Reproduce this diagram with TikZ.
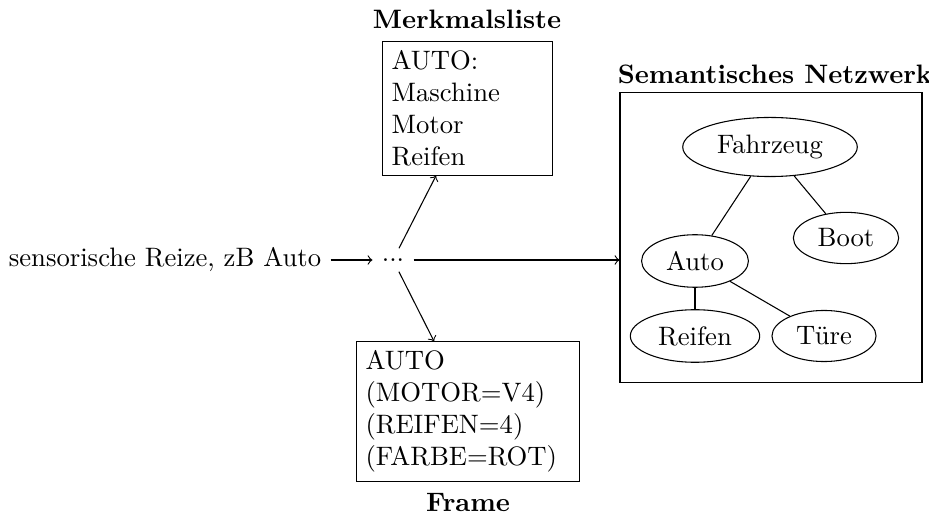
\documentclass[tikz,border=0pt]{standalone}
\usetikzlibrary{shapes.geometric,calc}
\begin{document}
\begin{tikzpicture}[x=0.375pt,y=-0.375pt,
  box/.style={draw,align=left},
  concept/.style={draw,ellipse},
  title/.style={font=\bfseries},
  arr/.style={->},
  link/.style={-}]
\useasboundingbox (0,0) rectangle (929,515);
% input and branching point
\node (input) at (165,260) {sensorische Reize, zB Auto};
\node[minimum height=8.4pt] (dots) at (393,260) {.{}.{}.};
% feature list
\node[box,text width=2cm] (merk) at (467.5,108.5) {AUTO:\\Maschine\\Motor\\Reifen};
\node[title] (merktitle) at (467,19) {Merkmalsliste};
% frame
\node[box,text width=2.7cm] (frame) at (468,411.5) {AUTO\\(MOTOR=V4)\\(REIFEN=4)\\(FARBE=ROT)};
\node[title] (frametitle) at (468,503) {Frame};
% semantic network
\node[draw,minimum width=113.25pt,minimum height=108.4pt] (netz) at (771,237.5) {};
\node[title] (netztitle) at (775,74) {Semantisches Netzwerk};
\node[concept] (fahrzeug) at (770,147) {Fahrzeug};
\node[concept] (boot) at (846,238) {Boot};
\node[concept] (auto) at (695,261) {Auto};
\node[concept] (reifen) at (695,336) {Reifen};
\node[concept] (tuere) at (824,336) {Türe};
\draw[link] (fahrzeug) -- (auto);
\draw[link] (fahrzeug) -- (boot);
\draw[link] (auto) -- (reifen);
\draw[link] (auto) -- (tuere);
% connectors
\coordinate (merkin) at ($(merk.south)+(-31.5,0)$);
\coordinate (framein) at ($(frame.north)+(-34,0)$);
\draw[arr] (input) -- (dots);
\draw[arr] (dots) -- (merkin);
\draw[arr] (dots) -- (framein);
\draw[arr] (dots) -- (dots -| netz.west);
\end{tikzpicture}
\end{document}
